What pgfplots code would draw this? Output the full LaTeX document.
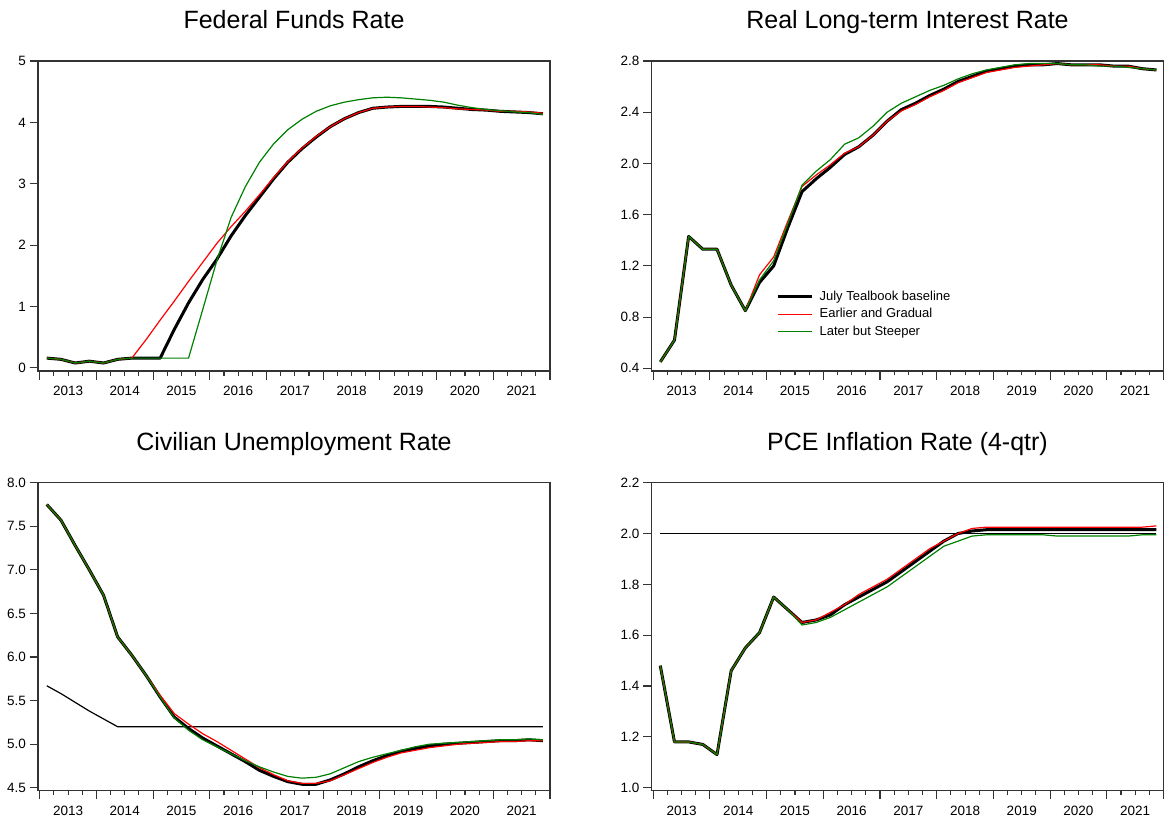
\documentclass[border=0pt]{standalone}
\usepackage{fontspec}
\setmainfont{Liberation Sans}
\usepackage{pgfplots}
\usepackage{pgfplotstable}
\pgfplotsset{compat=1.18}
\definecolor{evgreen}{RGB}{0,128,0}
\definecolor{evred}{RGB}{255,0,0}

\pgfplotstableread{
x base early late
2013.125 0.16 0.16 0.16
2013.375 0.14 0.14 0.14
2013.625 0.08 0.08 0.08
2013.875 0.11 0.11 0.11
2014.125 0.08 0.08 0.08
2014.375 0.14 0.14 0.14
2014.625 0.16 0.16 0.16
2014.875 0.16 0.46 0.16
2015.125 0.16 0.78 0.16
2015.375 0.63 1.09 0.16
2015.625 1.06 1.41 0.16
2015.875 1.44 1.72 0.95
2016.125 1.77 2.03 1.75
2016.375 2.15 2.30 2.45
2016.625 2.48 2.55 2.95
2016.875 2.78 2.82 3.35
2017.125 3.08 3.10 3.65
2017.375 3.35 3.36 3.88
2017.625 3.57 3.58 4.05
2017.875 3.76 3.77 4.18
2018.125 3.93 3.93 4.27
2018.375 4.06 4.06 4.33
2018.625 4.16 4.16 4.37
2018.875 4.23 4.23 4.40
2019.125 4.25 4.25 4.41
2019.375 4.26 4.26 4.40
2019.625 4.26 4.26 4.38
2019.875 4.26 4.25 4.36
2020.125 4.25 4.24 4.33
2020.375 4.23 4.22 4.28
2020.625 4.21 4.21 4.24
2020.875 4.20 4.20 4.21
2021.125 4.18 4.18 4.19
2021.375 4.17 4.18 4.17
2021.625 4.16 4.17 4.16
2021.875 4.14 4.15 4.13
}\fedtab

\pgfplotstableread{
x base early late
2013.125 0.45 0.45 0.45
2013.375 0.62 0.62 0.62
2013.625 1.43 1.43 1.43
2013.875 1.33 1.33 1.33
2014.125 1.33 1.33 1.33
2014.375 1.05 1.05 1.05
2014.625 0.85 0.85 0.85
2014.875 1.07 1.13 1.09
2015.125 1.20 1.27 1.24
2015.375 1.50 1.55 1.53
2015.625 1.78 1.82 1.83
2015.875 1.88 1.91 1.94
2016.125 1.97 1.99 2.03
2016.375 2.07 2.08 2.15
2016.625 2.13 2.13 2.20
2016.875 2.22 2.22 2.29
2017.125 2.33 2.33 2.40
2017.375 2.42 2.41 2.47
2017.625 2.47 2.46 2.52
2017.875 2.53 2.52 2.57
2018.125 2.58 2.57 2.61
2018.375 2.64 2.63 2.66
2018.625 2.68 2.67 2.70
2018.875 2.72 2.71 2.73
2019.125 2.74 2.73 2.75
2019.375 2.76 2.75 2.77
2019.625 2.77 2.76 2.78
2019.875 2.77 2.77 2.78
2020.125 2.78 2.78 2.78
2020.375 2.77 2.77 2.77
2020.625 2.77 2.77 2.77
2020.875 2.77 2.77 2.76
2021.125 2.76 2.76 2.76
2021.375 2.76 2.76 2.75
2021.625 2.74 2.74 2.74
2021.875 2.73 2.73 2.73
}\realtab

\pgfplotstableread{
x base early late nairu
2013.125 7.75 7.75 7.75 5.67
2013.375 7.57 7.57 7.57 5.58
2013.625 7.28 7.28 7.28 5.48
2013.875 7.00 7.00 7.00 5.38
2014.125 6.71 6.71 6.71 5.29
2014.375 6.23 6.23 6.23 5.20
2014.625 6.02 6.02 6.02 5.20
2014.875 5.79 5.79 5.79 5.20
2015.125 5.54 5.56 5.54 5.20
2015.375 5.31 5.35 5.30 5.20
2015.625 5.18 5.23 5.16 5.20
2015.875 5.07 5.12 5.05 5.20
2016.125 4.98 5.03 4.97 5.20
2016.375 4.89 4.93 4.89 5.20
2016.625 4.80 4.83 4.81 5.20
2016.875 4.70 4.73 4.74 5.20
2017.125 4.63 4.65 4.68 5.20
2017.375 4.57 4.58 4.63 5.20
2017.625 4.54 4.55 4.61 5.20
2017.875 4.54 4.55 4.62 5.20
2018.125 4.59 4.58 4.66 5.20
2018.375 4.66 4.65 4.73 5.20
2018.625 4.74 4.72 4.80 5.20
2018.875 4.81 4.79 4.85 5.20
2019.125 4.87 4.85 4.89 5.20
2019.375 4.92 4.90 4.93 5.20
2019.625 4.95 4.93 4.97 5.20
2019.875 4.98 4.96 5.00 5.20
2020.125 5.00 4.98 5.01 5.20
2020.375 5.01 5.00 5.02 5.20
2020.625 5.02 5.01 5.03 5.20
2020.875 5.03 5.02 5.04 5.20
2021.125 5.04 5.03 5.05 5.20
2021.375 5.04 5.03 5.05 5.20
2021.625 5.05 5.04 5.06 5.20
2021.875 5.04 5.04 5.05 5.20
}\unemptab

\pgfplotstableread{
x base early late target
2013.125 1.48 1.48 1.48 2.00
2013.375 1.18 1.18 1.18 2.00
2013.625 1.18 1.18 1.18 2.00
2013.875 1.17 1.17 1.17 2.00
2014.125 1.13 1.13 1.13 2.00
2014.375 1.46 1.46 1.46 2.00
2014.625 1.55 1.55 1.55 2.00
2014.875 1.61 1.61 1.61 2.00
2015.125 1.75 1.75 1.75 2.00
2015.375 1.70 1.70 1.70 2.00
2015.625 1.65 1.65 1.64 2.00
2015.875 1.66 1.66 1.65 2.00
2016.125 1.68 1.69 1.67 2.00
2016.375 1.72 1.72 1.70 2.00
2016.625 1.75 1.76 1.73 2.00
2016.875 1.78 1.79 1.76 2.00
2017.125 1.81 1.82 1.79 2.00
2017.375 1.85 1.86 1.83 2.00
2017.625 1.89 1.90 1.87 2.00
2017.875 1.93 1.94 1.91 2.00
2018.125 1.97 1.97 1.95 2.00
2018.375 2.00 2.00 1.97 2.00
2018.625 2.01 2.02 1.99 2.00
2018.875 2.015 2.025 1.995 2.00
2019.125 2.015 2.025 1.995 2.00
2019.375 2.015 2.025 1.995 2.00
2019.625 2.015 2.025 1.995 2.00
2019.875 2.015 2.025 1.995 2.00
2020.125 2.015 2.025 1.99 2.00
2020.375 2.015 2.025 1.99 2.00
2020.625 2.015 2.025 1.99 2.00
2020.875 2.015 2.025 1.99 2.00
2021.125 2.015 2.025 1.99 2.00
2021.375 2.015 2.025 1.99 2.00
2021.625 2.015 2.025 1.995 2.00
2021.875 2.015 2.03 1.995 2.00
}\pcetab

\pgfplotsset{
  evpanel/.style={
    scale only axis,
    width=512pt,
    xmin=2012.97, xmax=2022,
    axis line style={line width=1.1pt, black!80},
    tick align=outside,
    tick pos=left,
    xtick={2013,2014,2015,2016,2017,2018,2019,2020,2021,2022},
    minor xtick={2013.25,2013.5,2013.75,2014.25,2014.5,2014.75,2015.25,2015.5,2015.75,2016.25,2016.5,2016.75,2017.25,2017.5,2017.75,2018.25,2018.5,2018.75,2019.25,2019.5,2019.75,2020.25,2020.5,2020.75,2021.25,2021.5,2021.75},
    x tick label as interval,
    xticklabels={2013,2014,2015,2016,2017,2018,2019,2020,2021},
    major tick length=8.5pt,
    minor tick length=4.5pt,
    every tick/.style={black!80, line width=1.1pt},
    tick label style={font=\fontsize{13.5}{15}\selectfont},
    xticklabel style={yshift=-3.5pt},
    /pgf/number format/assume math mode=true,
    title style={at={(0.5,1)}, anchor=base, yshift=26pt, font=\fontsize{25}{30}\selectfont},
    every axis plot/.append style={line join=round},
  },
  basest/.style={black, line width=3pt},
  earlyst/.style={evred, line width=1.2pt},
  latest/.style={evgreen, line width=1.2pt},
  refst/.style={black, line width=1.2pt},
}

\begin{document}
\begin{tikzpicture}
\useasboundingbox (0pt,0pt) rectangle (1167pt,823pt);

% Federal Funds Rate
\begin{axis}[evpanel, at={(38pt,452pt)}, anchor=south west, height=310pt,
  ymin=-0.05, ymax=5, ytick={0,1,2,3,4,5},
  title={Federal Funds Rate}]
\addplot[basest] table[x=x,y=base]{\fedtab};
\addplot[earlyst] table[x=x,y=early]{\fedtab};
\addplot[latest] table[x=x,y=late]{\fedtab};
\end{axis}

% Real long-term interest rate
\begin{axis}[evpanel, at={(651.5pt,452pt)}, anchor=south west, height=310pt,
  ymin=0.379, ymax=2.8, ytick={0.4,0.8,1.2,1.6,2.0,2.4,2.8},
  yticklabel style={/pgf/number format/.cd, fixed, fixed zerofill, precision=1},
  title={Real Long-term Interest Rate},
  legend style={at={(0.243,0.265)}, anchor=north west, draw=none, fill=none,
    font=\fontsize{13}{15}\selectfont, inner sep=0pt, row sep=2pt,
    nodes={text height=9.5pt, text depth=3pt, inner sep=1.5pt}},
  legend cell align=left,
  legend image code/.code={\draw[#1] (0pt,0pt) -- (34pt,0pt); \path (39pt,0pt);}]
\addplot[basest] table[x=x,y=base]{\realtab};
\addlegendentry{July Tealbook baseline}
\addplot[earlyst] table[x=x,y=early]{\realtab};
\addlegendentry{Earlier and Gradual}
\addplot[latest] table[x=x,y=late]{\realtab};
\addlegendentry{Later but Steeper}
\end{axis}

% Civilian Unemployment Rate
\begin{axis}[evpanel, at={(38pt,32.3pt)}, anchor=south west, height=308pt,
  ymin=4.466, ymax=8.0, ytick={4.5,5.0,5.5,6.0,6.5,7.0,7.5,8.0},
  yticklabel style={/pgf/number format/.cd, fixed, fixed zerofill, precision=1},
  title={Civilian Unemployment Rate}]
\addplot[refst] table[x=x,y=nairu]{\unemptab};
\addplot[basest] table[x=x,y=base]{\unemptab};
\addplot[earlyst] table[x=x,y=early]{\unemptab};
\addplot[latest] table[x=x,y=late]{\unemptab};
\end{axis}

% PCE Inflation Rate
\begin{axis}[evpanel, at={(651.5pt,32.3pt)}, anchor=south west, height=308pt,
  ymin=0.988, ymax=2.2, ytick={1.0,1.2,1.4,1.6,1.8,2.0,2.2},
  yticklabel style={/pgf/number format/.cd, fixed, fixed zerofill, precision=1},
  title={PCE Inflation Rate (4-qtr)}]
\addplot[refst] table[x=x,y=target]{\pcetab};
\addplot[basest] table[x=x,y=base]{\pcetab};
\addplot[earlyst] table[x=x,y=early]{\pcetab};
\addplot[latest] table[x=x,y=late]{\pcetab};
\end{axis}
\end{tikzpicture}
\end{document}
